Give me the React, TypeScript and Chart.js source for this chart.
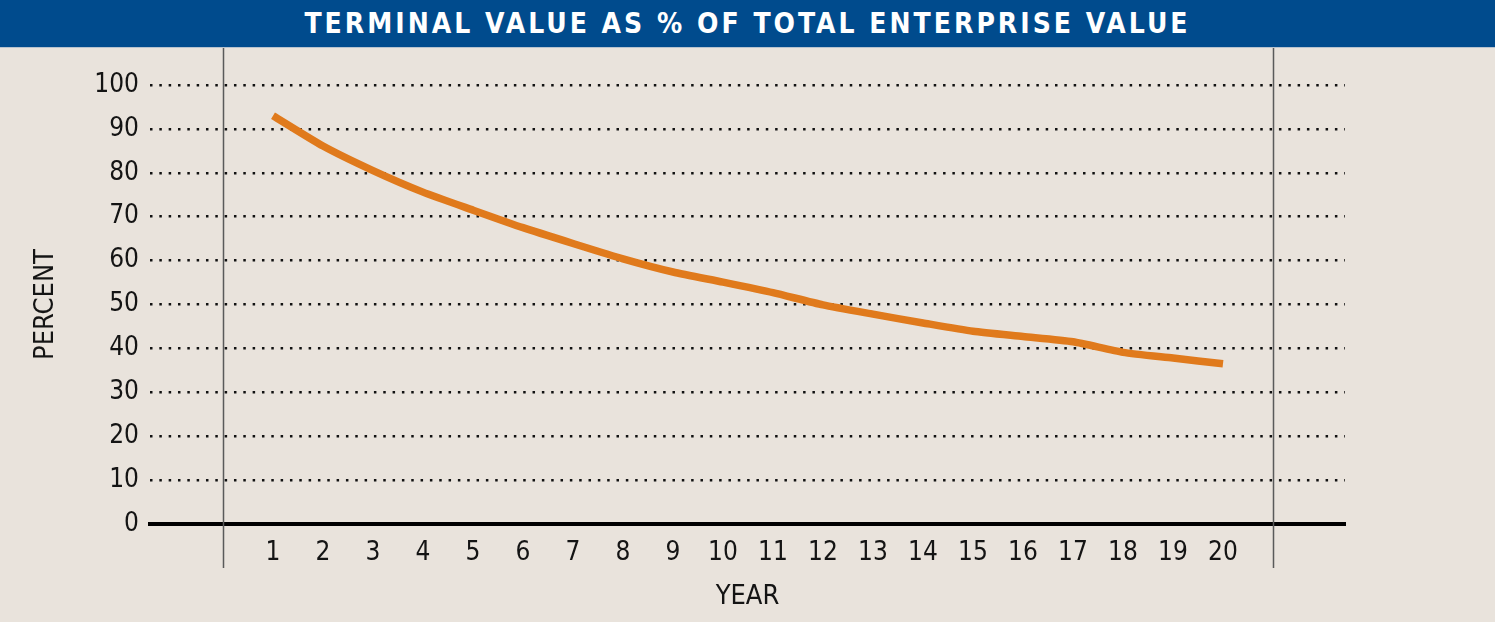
import React, { useEffect, useRef } from "react";
import { Chart, registerables } from "chart.js";

Chart.register(...registerables);

const TITLE = "TERMINAL VALUE AS % OF TOTAL ENTERPRISE VALUE";
const X_TITLE = "YEAR";
const Y_TITLE = "PERCENT";
const YEARS = [1, 2, 3, 4, 5, 6, 7, 8, 9, 10, 11, 12, 13, 14, 15, 16, 17, 18, 19, 20];
const TERMINAL_PCT = [93, 86.1, 80.5, 75.6, 71.5, 67.5, 63.9, 60.4, 57.4, 55.1, 52.7, 49.9, 47.8, 45.8, 43.9, 42.7, 41.5, 39.1, 37.8, 36.5];
const Y_TICKS = [0, 10, 20, 30, 40, 50, 60, 70, 80, 90, 100];
const SEPARATORS = [0, 21];

const FONT = "'DejaVu Sans Condensed', 'Liberation Sans Narrow', 'Noto Sans', sans-serif";
const BG = "#e9e3dc";
const BLUE = "#004b8d";
const ORANGE = "#e07a1c";
const INK = "#141414";

const separatorPlugin = {
  id: "separators",
  beforeDatasetsDraw(chart: any) {
    const { ctx } = chart;
    const xs = chart.scales.x;
    ctx.save();
    ctx.strokeStyle = "#5a5a5a";
    ctx.lineWidth = 1.5;
    for (const v of SEPARATORS) {
      const px = Math.round(xs.getPixelForValue(v)) + 0.5;
      ctx.beginPath();
      ctx.moveTo(px, 0);
      ctx.lineTo(px, xs.top + 44);
      ctx.stroke();
    }
    ctx.restore();
  },
};

export default function App() {
  const canvasRef = useRef<HTMLCanvasElement | null>(null);

  useEffect(() => {
    const canvas = canvasRef.current;
    if (!canvas) return;
    const chart = new Chart(canvas, {
      type: "line",
      data: {
        datasets: [
          {
            label: "Terminal value %",
            data: YEARS.map((y, i) => ({ x: y, y: TERMINAL_PCT[i] })),
            borderColor: ORANGE,
            borderWidth: 7.5,
            pointRadius: 0,
            tension: 0.2,
            borderCapStyle: "butt",
            fill: false,
          },
        ],
      },
      options: {
        responsive: false,
        animation: false,
        layout: { padding: { top: 37, right: 150, left: 0, bottom: 0 } },
        plugins: {
          legend: { display: false },
          tooltip: { enabled: false },
          title: { display: false },
        },
        scales: {
          x: {
            type: "linear",
            min: -1.46,
            max: 22.44,
            afterBuildTicks: (scale: any) => {
              scale.ticks = YEARS.map((v) => ({ value: v }));
            },
            afterFit: (scale: any) => {
              scale.height = 98;
            },
            grid: { display: false, drawTicks: false },
            border: { display: true, width: 4, color: "#000" },
            ticks: {
              autoSkip: false,
              maxRotation: 0,
              padding: 14,
              color: INK,
              font: { family: FONT, size: 26 },
              callback: (v: any) => String(v),
            },
            title: {
              display: true,
              text: X_TITLE,
              color: INK,
              font: { family: FONT, size: 27 },
              padding: { top: 0, bottom: 9 },
            },
          },
          y: {
            min: 0,
            max: 100,
            afterBuildTicks: (scale: any) => {
              scale.ticks = Y_TICKS.map((v) => ({ value: v }));
            },
            afterFit: (scale: any) => {
              scale.width = 150;
            },
            grid: {
              drawTicks: false,
              lineWidth: 2.5,
              color: (c: any) => (c.tick && c.tick.value === 0 ? "rgba(0,0,0,0)" : "#111"),
            },
            border: { display: false, dash: [2.5, 6.83] },
            ticks: {
              padding: 11,
              color: INK,
              font: { family: FONT, size: 26 },
              callback: (v: any) => String(v),
            },
            title: {
              display: true,
              text: Y_TITLE,
              color: INK,
              font: { family: FONT, size: 27 },
              padding: { top: 30, bottom: 0 },
            },
          },
        },
      },
      plugins: [separatorPlugin],
    });
    return () => chart.destroy();
  }, []);

  return (
    <div style={{ position: "fixed", left: 0, top: 0, width: 1495, height: 622, background: BG, overflow: "hidden" }}>
      <div
        style={{
          height: 47,
          background: BLUE,
          borderBottom: "1px solid #b7c3cf",
          color: "#fff",
          fontFamily: FONT,
          fontWeight: 700,
          fontSize: 28,
          letterSpacing: "3px",
          lineHeight: "48px",
          textAlign: "center",
          whiteSpace: "nowrap",
        }}
      >
        {TITLE}
      </div>
      <canvas ref={canvasRef} width={1495} height={574} style={{ display: "block" }} />
    </div>
  );
}
